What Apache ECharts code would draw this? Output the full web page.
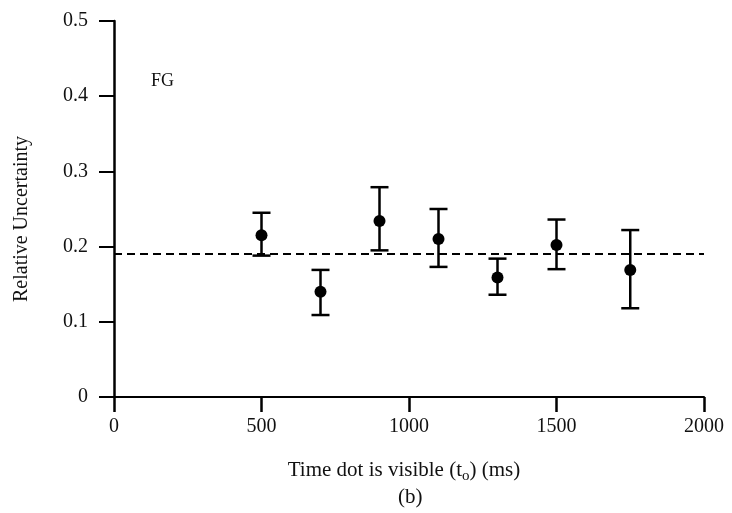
<!DOCTYPE html>
<html>
<head>
<meta charset="utf-8">
<script src="https://cdn.jsdelivr.net/npm/echarts@6/dist/echarts.min.js"></script>
<style>
  html, body { margin: 0; padding: 0; background: #fff; }
  #main { width: 732px; height: 513px; }
</style>
</head>
<body>
<div id="main"></div>
<script>
// values
var timeMs = [500, 700, 900, 1100, 1300, 1500, 1750];
var meanU  = [0.215, 0.140, 0.234, 0.210, 0.159, 0.202, 0.169];
var lowU   = [0.188, 0.109, 0.195, 0.173, 0.136, 0.170, 0.118];
var highU  = [0.245, 0.169, 0.279, 0.250, 0.184, 0.236, 0.222];
var refLevel = 0.194;
var xTicks = [0, 500, 1000, 1500, 2000];
var yTicks = [0, 0.1, 0.2, 0.3, 0.4, 0.5];

var chartDom = document.getElementById('main');
var myChart = echarts.init(chartDom);
var serif = '"Liberation Serif", "DejaVu Serif", serif';

var pts = timeMs.map(function (t, i) { return [t, meanU[i]]; });
var bars = timeMs.map(function (t, i) { return [t, lowU[i], highU[i]]; });

var option = {
  animation: false,
  backgroundColor: '#fff',
  grid: { left: 114, right: 28, top: 21, bottom: 116 },
  xAxis: {
    type: 'value',
    min: 0, max: 2000, interval: 500,
    name: '{a|Time dot is visible (t}{s|o}{a|) (ms)}',
    nameLocation: 'middle',
    nameGap: 60,
    nameTextStyle: {
      padding: [0, 10, 0, 0],
      rich: {
        a: { fontFamily: serif, fontSize: 21, color: '#111' },
        s: { fontFamily: serif, fontSize: 15, color: '#111', padding: [12, 0, 0, 0] }
      }
    },
    axisLine: { lineStyle: { color: '#000', width: 2 } },
    axisTick: { length: 15, lineStyle: { color: '#000', width: 2.5 } },
    axisLabel: {
      margin: 20,
      fontFamily: serif, fontSize: 20, color: '#111',
      formatter: function (v) { return xTicks.indexOf(v) >= 0 ? String(v) : ''; }
    },
    splitLine: { show: false }
  },
  yAxis: {
    type: 'value',
    min: 0, max: 0.5, interval: 0.1,
    name: 'Relative Uncertainty',
    nameLocation: 'middle',
    nameGap: 82,
    nameTextStyle: { fontFamily: serif, fontSize: 20, color: '#111', padding: [0, 0, 0, -20] },
    axisLine: { show: true, lineStyle: { color: '#000', width: 2.5 } },
    axisTick: { show: true, length: 15, lineStyle: { color: '#000', width: 2 } },
    axisLabel: {
      margin: 26,
      fontFamily: serif, fontSize: 20, color: '#111',
      formatter: function (v) {
        var r = Math.round(v * 10) / 10;
        return yTicks.indexOf(r) >= 0 ? (r === 0 ? '0' : r.toFixed(1)) : '';
      }
    },
    splitLine: { show: false }
  },
  graphic: [
    {
      type: 'text', left: 151, top: 72,
      style: { text: 'FG', font: '18px ' + serif, fill: '#111' }
    },
    {
      type: 'text', left: 398, top: 487,
      style: { text: '(b)', font: '21px ' + serif, fill: '#111' }
    }
  ],
  series: [
    {
      type: 'custom',
      data: bars,
      z: 3,
      renderItem: function (params, api) {
        var x = api.value(0);
        var lo = api.coord([x, api.value(1)]);
        var hi = api.coord([x, api.value(2)]);
        var w = 9;
        var st = { stroke: '#000', lineWidth: 2.5 };
        return {
          type: 'group',
          children: [
            { type: 'line', shape: { x1: lo[0], y1: lo[1], x2: hi[0], y2: hi[1] }, style: st },
            { type: 'line', shape: { x1: hi[0] - w, y1: hi[1], x2: hi[0] + w, y2: hi[1] }, style: st },
            { type: 'line', shape: { x1: lo[0] - w, y1: lo[1], x2: lo[0] + w, y2: lo[1] }, style: st }
          ]
        };
      }
    },
    {
      type: 'scatter',
      data: pts,
      symbol: 'circle',
      symbolSize: 12,
      z: 4,
      itemStyle: { color: '#000', opacity: 1 },
      markLine: {
        silent: true,
        symbol: 'none',
        label: { show: false },
        lineStyle: { color: '#000', width: 1.8, type: [8, 5], opacity: 1 },
        data: [{ yAxis: refLevel }]
      }
    }
  ]
};

myChart.setOption(option);
</script>
</body>
</html>
